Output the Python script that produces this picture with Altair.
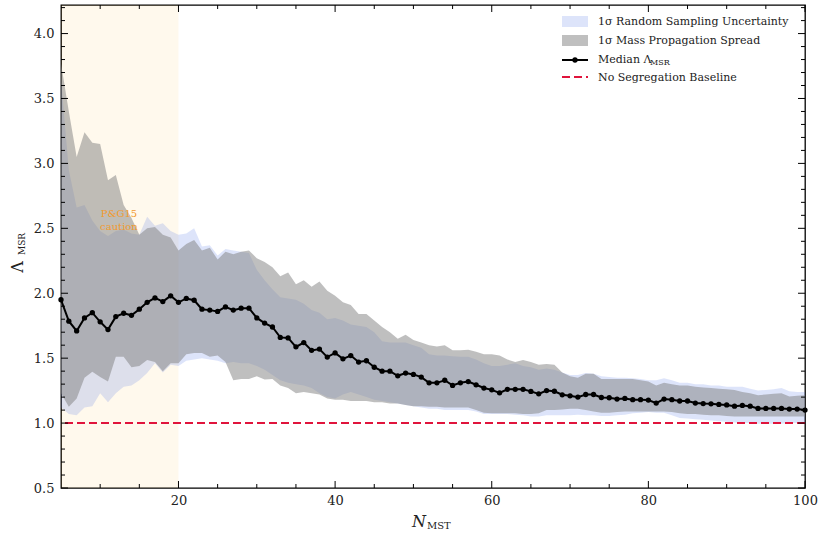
import altair as alt
import pandas as pd

# ---------------- data ----------------
n_mst = list(range(5, 101))
median = [1.95, 1.785, 1.71, 1.81, 1.85, 1.78, 1.72, 1.82, 1.846, 1.83,
          1.877, 1.93, 1.964, 1.936, 1.98, 1.93, 1.96, 1.946, 1.877, 1.87,
          1.86, 1.895, 1.87, 1.885, 1.885, 1.81, 1.77, 1.74, 1.66, 1.656,
          1.587, 1.62, 1.56, 1.57, 1.508, 1.54, 1.495, 1.52, 1.47, 1.48,
          1.43, 1.40, 1.40, 1.364, 1.385, 1.375, 1.354, 1.31, 1.31, 1.33,
          1.29, 1.31, 1.32, 1.295, 1.27, 1.256, 1.233, 1.26, 1.26, 1.26,
          1.244, 1.225, 1.25, 1.245, 1.218, 1.21, 1.20, 1.22, 1.22, 1.197,
          1.195, 1.185, 1.19, 1.18, 1.18, 1.177, 1.154, 1.185, 1.18, 1.17,
          1.17, 1.154, 1.15, 1.148, 1.144, 1.14, 1.13, 1.136, 1.13, 1.113,
          1.113, 1.113, 1.113, 1.108, 1.108, 1.10]
rs_hi = [3.65, 2.95, 2.66, 2.68, 2.56, 2.48, 2.44, 2.48, 2.49, 2.46,
         2.45, 2.59, 2.52, 2.54, 2.48, 2.45, 2.46, 2.50, 2.36, 2.37,
         2.29, 2.34, 2.33, 2.32, 2.31, 2.18, 2.10, 2.03, 1.97, 1.96,
         1.95, 1.92, 1.87, 1.85, 1.80, 1.81, 1.79, 1.76, 1.75, 1.74,
         1.70, 1.63, 1.62, 1.62, 1.62, 1.60, 1.58, 1.53, 1.52, 1.52,
         1.515, 1.51, 1.51, 1.49, 1.46, 1.44, 1.44, 1.45, 1.46, 1.44,
         1.43, 1.41, 1.42, 1.41, 1.39, 1.37, 1.37, 1.385, 1.38, 1.36,
         1.355, 1.35, 1.35, 1.345, 1.34, 1.33, 1.33, 1.345, 1.33, 1.31,
         1.31, 1.30, 1.30, 1.29, 1.29, 1.28, 1.28, 1.28, 1.265, 1.25,
         1.255, 1.26, 1.27, 1.245, 1.24, 1.24]
rs_lo = [1.12, 1.07, 1.06, 1.12, 1.13, 1.23, 1.16, 1.23, 1.28, 1.29,
         1.33, 1.385, 1.46, 1.39, 1.45, 1.44, 1.48, 1.49, 1.50, 1.49,
         1.48, 1.46, 1.47, 1.46, 1.46, 1.44, 1.41, 1.37, 1.33, 1.31,
         1.30, 1.29, 1.27, 1.23, 1.20, 1.19, 1.22, 1.24, 1.22, 1.20,
         1.18, 1.17, 1.16, 1.15, 1.14, 1.13, 1.12, 1.11, 1.11, 1.10,
         1.10, 1.10, 1.10, 1.09, 1.07, 1.07, 1.07, 1.07, 1.065, 1.06,
         1.05, 1.05, 1.06, 1.06, 1.06, 1.06, 1.065, 1.06, 1.06, 1.055,
         1.055, 1.06, 1.065, 1.075, 1.08, 1.085, 1.08, 1.08, 1.06, 1.04,
         1.035, 1.03, 1.025, 1.02, 1.015, 1.01, 1.005, 1.00, 1.00, 0.995,
         0.995, 0.995, 0.995, 1.0, 1.0, 1.0]
mp_hi = [3.77, 3.40, 3.05, 3.24, 3.16, 3.15, 2.87, 2.91, 2.68, 2.58,
         2.45, 2.50, 2.51, 2.45, 2.43, 2.33, 2.38, 2.41, 2.33, 2.35,
         2.26, 2.32, 2.30, 2.32, 2.33, 2.27, 2.24, 2.20, 2.13, 2.16,
         2.07, 2.10, 2.05, 2.09, 2.02, 1.98, 1.93, 1.91, 1.84, 1.84,
         1.79, 1.74, 1.70, 1.65, 1.68, 1.64, 1.62, 1.60, 1.59, 1.60,
         1.56, 1.56, 1.565, 1.55, 1.53, 1.53, 1.52, 1.49, 1.47, 1.485,
         1.47, 1.45, 1.455, 1.45, 1.39, 1.36, 1.35, 1.38, 1.38, 1.34,
         1.34, 1.34, 1.34, 1.34, 1.33, 1.32, 1.29, 1.31, 1.30, 1.29,
         1.29, 1.28, 1.275, 1.27, 1.265, 1.26, 1.255, 1.24, 1.23, 1.215,
         1.22, 1.225, 1.23, 1.205, 1.21, 1.215]
mp_lo = [1.23, 1.125, 1.19, 1.35, 1.395, 1.355, 1.32, 1.51, 1.51, 1.43,
         1.44, 1.485, 1.47, 1.40, 1.46, 1.46, 1.53, 1.54, 1.54, 1.51,
         1.52, 1.47, 1.33, 1.34, 1.34, 1.36, 1.335, 1.34, 1.29, 1.27,
         1.23, 1.24, 1.23, 1.22, 1.19, 1.18, 1.18, 1.17, 1.17, 1.17,
         1.16, 1.16, 1.15, 1.15, 1.14, 1.13, 1.13, 1.125, 1.125, 1.12,
         1.12, 1.12, 1.12, 1.10, 1.08, 1.075, 1.075, 1.075, 1.075, 1.07,
         1.07, 1.075, 1.10, 1.10, 1.105, 1.11, 1.11, 1.10, 1.09, 1.08,
         1.08, 1.085, 1.09, 1.09, 1.09, 1.09, 1.09, 1.09, 1.085, 1.075,
         1.07, 1.07, 1.065, 1.06, 1.06, 1.055, 1.05, 1.05, 1.05, 1.05,
         1.05, 1.05, 1.05, 1.05, 1.05, 1.05]

baseline = [1.0]
caution_span = [5, 20]
caution_text = ["P&G15", "caution"]
caution_x = [12.4, 12.4]
caution_y = [2.61, 2.51]

x_ticks = [20, 40, 60, 80, 100]
x_minor = [10, 15, 25, 30, 35, 45, 50, 55, 65, 70, 75, 85, 90, 95]
y_ticks = [0.5, 1.0, 1.5, 2.0, 2.5, 3.0, 3.5, 4.0]
y_minor = [round(0.5 + 0.1 * i, 1) for i in range(1, 38) if i % 5 != 0]

legend_labels = ["1σ Random Sampling Uncertainty", "1σ Mass Propagation Spread",
                 "Median Λ", "No Segregation Baseline"]

# ---------------- layout ----------------
W, H = 744, 483
FONT = "DejaVu Serif"
xs = alt.Scale(domain=[5, 100], nice=False, zero=False)
ys = alt.Scale(domain=[0.5, 4.22], nice=False, zero=False)

XAX = alt.Axis(values=x_ticks, title=None, grid=False, domain=False, ticks=False,
               labelFont=FONT, labelFontSize=13, labelColor="#222", labelPadding=6,
               labelFlush=False)
YAX = alt.Axis(values=y_ticks, format=".1f", title=None, grid=False, domain=False,
               ticks=False, labelFont=FONT, labelFontSize=13, labelColor="#222",
               labelPadding=7)


def X(f):
    return alt.X(f, scale=xs, axis=XAX)


def Y(f):
    return alt.Y(f, scale=ys, axis=YAX)


df = pd.DataFrame({"n": n_mst, "med": median, "rs_lo": rs_lo, "rs_hi": rs_hi,
                   "mp_lo": mp_lo, "mp_hi": mp_hi})

span = alt.Chart(pd.DataFrame({"a": [caution_span[0]], "b": [caution_span[1]]})).mark_rect(
    color="#ffa500", opacity=0.07).encode(x=X("a:Q"), x2="b:Q")

blue = alt.Chart(df).mark_area(color="#4169e1", opacity=0.18).encode(
    x=X("n:Q"), y=Y("rs_lo:Q"), y2="rs_hi:Q")

gray = alt.Chart(df).mark_area(color="#808080", opacity=0.5).encode(
    x=X("n:Q"), y=Y("mp_lo:Q"), y2="mp_hi:Q")

base_rule = alt.Chart(pd.DataFrame({"b": baseline})).mark_rule(
    color="#e0143c", strokeDash=[8, 4], strokeWidth=2).encode(y=Y("b:Q"))

line = alt.Chart(df).mark_line(color="black", strokeWidth=2).encode(x=X("n:Q"), y=Y("med:Q"))
pts = alt.Chart(df).mark_circle(color="black", opacity=1, size=28).encode(
    x=X("n:Q"), y=Y("med:Q"))

ann = alt.Chart(pd.DataFrame({"t": caution_text, "x": caution_x, "y": caution_y})).mark_text(
    font=FONT, fontSize=10, color="#f29a2e", align="center", baseline="middle").encode(
    x=X("x:Q"), y=Y("y:Q"), text="t:N")


# inward ticks on all four sides
def yt(vals, x0, x1):
    return alt.Chart(pd.DataFrame({"v": vals})).mark_rule(color="black", strokeWidth=1).encode(
        y=Y("v:Q"), x=alt.value(x0), x2=alt.value(x1))


def xt(vals, y0, y1):
    return alt.Chart(pd.DataFrame({"v": vals})).mark_rule(color="black", strokeWidth=1).encode(
        x=X("v:Q"), y=alt.value(y0), y2=alt.value(y1))


ticks = [yt(y_ticks, 0, 7), yt(y_ticks, W - 7, W), yt(y_minor, 0, 4), yt(y_minor, W - 4, W),
         xt(x_ticks, H, H - 7), xt(x_ticks, 0, 7), xt(x_minor, H, H - 4), xt(x_minor, 0, 4)]

one = pd.DataFrame({"k": [0]})


def txt(s, x, y, size=11, angle=0, align="left", style="normal", baseline="middle"):
    kw = dict(font=FONT, fontSize=size, align=align, baseline=baseline, color="#222",
              fontStyle=style)
    if angle:
        kw["angle"] = angle
    return alt.Chart(one).mark_text(text=s, **kw).encode(x=alt.value(x), y=alt.value(y))


# legend (manual)
LX0, LX1, TX = 501, 527, 537
leg = [
    alt.Chart(one).mark_rect(color="#4169e1", opacity=0.18).encode(
        x=alt.value(LX0), x2=alt.value(LX1), y=alt.value(11), y2=alt.value(22)),
    alt.Chart(one).mark_rect(color="#808080", opacity=0.5).encode(
        x=alt.value(LX0), x2=alt.value(LX1), y=alt.value(30), y2=alt.value(41)),
    alt.Chart(one).mark_rule(color="black", strokeWidth=2).encode(
        x=alt.value(LX0), x2=alt.value(LX1), y=alt.value(55)),
    alt.Chart(one).mark_circle(color="black", opacity=1, size=28).encode(
        x=alt.value((LX0 + LX1) / 2), y=alt.value(55)),
    alt.Chart(one).mark_rule(color="#e0143c", strokeWidth=2, strokeDash=[8, 4]).encode(
        x=alt.value(LX0), x2=alt.value(LX1), y=alt.value(72)),
    txt(legend_labels[0], TX, 16.5),
    txt(legend_labels[1], TX, 35.5),
    txt(legend_labels[2], TX, 55),
    txt("MSR", TX + 52, 58, size=8),
    txt(legend_labels[3], TX, 72.5),
]

# axis titles
titles = [
    txt("N", 358, 517, size=16, align="center", style="italic"),
    txt("MST", 366, 521, size=10),
    txt("Λ", -43, 262, size=16, angle=270, align="center"),
    txt("MSR", -39, 239, size=9, angle=270, align="center"),
]

chart = alt.layer(span, blue, gray, base_rule, line, pts, ann, *ticks, *leg, *titles).properties(
    width=W, height=H,
    autosize=alt.AutoSizeParams(type="none"),
    padding={"left": 61, "top": 5, "right": 13, "bottom": 48},
).configure_view(stroke="black", strokeWidth=1.3)

chart.save("out.html", embed_options={"renderer": "svg", "actions": False})
